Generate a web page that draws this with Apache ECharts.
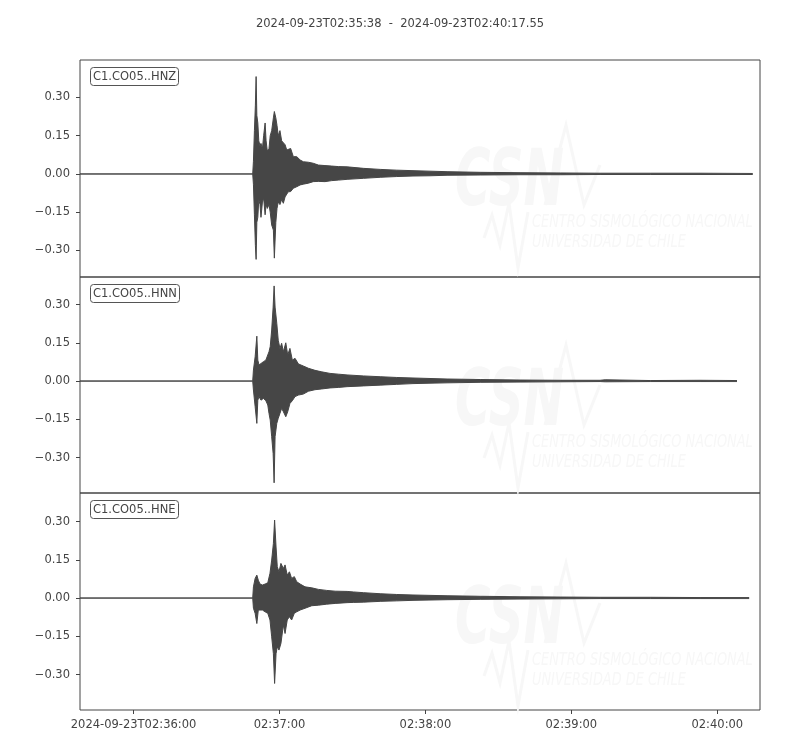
<!DOCTYPE html>
<html>
<head>
    <title>C1.CO05 waveform</title>
    <meta charset="utf-8" />
    <script src="https://cdn.jsdelivr.net/npm/echarts@6/dist/echarts.min.js"></script>
    <style type="text/css">
        html,
        body {
            width: 100%;
            height: 100%;
            margin: 0;
            background: #fff;
        }

        #main {
            width: 800px;
            height: 750px;
        }
    </style>
</head>

<body>
    <div id="main"></div>
    <script>
        // time in seconds after 02:35:00, amplitude envelope
        var stations = ['C1.CO05..HNZ', 'C1.CO05..HNN', 'C1.CO05..HNE'];
        var startSec = 38, endSec = 317.55;
        var tickSecs = [60, 120, 180, 240, 300];
        var yTicks = [-0.3, -0.15, 0, 0.15, 0.3];
        var yMin = [-0.404, -0.439, -0.439];
        var yMax = [0.447, 0.408, 0.412];

        var hnzT = [38, 109.0, 109.3, 109.7, 110.1, 110.4, 110.7, 111.1, 111.5, 112.0, 112.4, 113.0, 113.5, 114.1, 114.5, 115.0, 115.7, 116.2, 116.8, 117.5, 117.9, 118.5, 119.0, 119.5, 120.2, 120.9, 121.6, 122.3, 123.0, 123.6, 124.6, 125.7, 127.1, 128.5, 129.8, 131.9, 133.9, 136.0, 138.7, 141.5, 144.2, 147.8, 154.6, 161.4, 168.2, 174.9, 181.9, 188.9, 202.5, 218.9, 235.4, 251.8, 272.4, 292.9, 314.6];
        var hnzUp = [0, 0, 0.05, 0.17, 0.27, 0.382, 0.23, 0.20, 0.13, 0.11, 0.12, 0.10, 0.15, 0.20, 0.13, 0.09, 0.10, 0.15, 0.17, 0.22, 0.245, 0.22, 0.19, 0.15, 0.17, 0.13, 0.127, 0.115, 0.094, 0.095, 0.10, 0.068, 0.068, 0.055, 0.048, 0.046, 0.042, 0.035, 0.033, 0.031, 0.029, 0.028, 0.022, 0.018, 0.015, 0.013, 0.011, 0.009, 0.0065, 0.005, 0.004, 0.003, 0.003, 0.003, 0.002];
        var hnzLo = [0, 0, -0.04, -0.16, -0.28, -0.335, -0.19, -0.17, -0.10, -0.12, -0.17, -0.11, -0.095, -0.16, -0.12, -0.135, -0.12, -0.15, -0.20, -0.22, -0.33, -0.19, -0.135, -0.11, -0.12, -0.10, -0.115, -0.09, -0.089, -0.07, -0.069, -0.056, -0.05, -0.043, -0.04, -0.036, -0.03, -0.029, -0.03, -0.026, -0.024, -0.021, -0.017, -0.013, -0.010, -0.008, -0.007, -0.005, -0.004, -0.003, -0.003, -0.002, -0.002, -0.002, -0.002];

        var hnnT = [38, 109.0, 109.3, 110.0, 110.7, 111.1, 111.6, 112.4, 113.4, 114.4, 115.2, 115.7, 116.2, 116.8, 117.4, 117.8, 118.2, 118.9, 119.5, 120.2, 120.9, 121.6, 122.6, 123.4, 124.3, 125.3, 126.4, 127.8, 129.8, 131.9, 134.6, 137.4, 140.8, 144.2, 147.8, 154.6, 161.4, 168.2, 174.9, 188.9, 202.5, 218.9, 235.4, 251.8, 253.9, 272.4, 292.9, 308.1];
        var hnnUp = [0, 0, 0.043, 0.095, 0.176, 0.082, 0.063, 0.069, 0.076, 0.082, 0.089, 0.115, 0.135, 0.20, 0.29, 0.373, 0.29, 0.226, 0.16, 0.128, 0.148, 0.115, 0.15, 0.102, 0.128, 0.082, 0.089, 0.067, 0.059, 0.05, 0.042, 0.036, 0.03, 0.027, 0.024, 0.020, 0.017, 0.014, 0.012, 0.008, 0.006, 0.004, 0.003, 0.003, 0.005, 0.002, 0.003, 0.002];
        var hnnLo = [0, 0, -0.035, -0.10, -0.166, -0.075, -0.061, -0.075, -0.068, -0.077, -0.094, -0.127, -0.153, -0.218, -0.284, -0.399, -0.218, -0.166, -0.146, -0.127, -0.107, -0.12, -0.14, -0.12, -0.088, -0.077, -0.061, -0.055, -0.051, -0.04, -0.034, -0.031, -0.027, -0.025, -0.022, -0.019, -0.016, -0.013, -0.010, -0.007, -0.005, -0.004, -0.003, -0.002, -0.003, -0.002, -0.002, -0.002];

        var hneT = [38, 109.0, 109.3, 110.0, 110.7, 111.3, 112.0, 113.0, 114.1, 115.2, 116.1, 116.8, 117.5, 118.0, 118.6, 119.1, 119.8, 120.6, 121.6, 122.3, 123.2, 124.1, 125.0, 126.1, 127.1, 128.5, 130.5, 133.3, 136.0, 139.4, 142.9, 147.8, 150.4, 154.6, 161.4, 168.2, 174.9, 188.9, 202.5, 218.9, 235.4, 251.8, 272.4, 292.9, 313.1];
        var hneUp = [0, 0, 0.044, 0.077, 0.09, 0.07, 0.055, 0.051, 0.055, 0.06, 0.097, 0.149, 0.214, 0.306, 0.20, 0.123, 0.103, 0.136, 0.116, 0.13, 0.09, 0.103, 0.077, 0.084, 0.064, 0.055, 0.044, 0.04, 0.034, 0.030, 0.027, 0.026, 0.024, 0.021, 0.017, 0.014, 0.012, 0.009, 0.007, 0.005, 0.004, 0.003, 0.003, 0.002, 0.002];
        var hneLo = [0, 0, -0.04, -0.06, -0.10, -0.047, -0.04, -0.047, -0.054, -0.06, -0.086, -0.152, -0.218, -0.335, -0.218, -0.191, -0.204, -0.178, -0.106, -0.139, -0.086, -0.073, -0.086, -0.06, -0.054, -0.047, -0.04, -0.03, -0.028, -0.024, -0.021, -0.018, -0.017, -0.016, -0.013, -0.011, -0.009, -0.0065, -0.005, -0.004, -0.003, -0.002, -0.002, -0.002, -0.002];

        var traces = [[hnzT, hnzUp, hnzLo], [hnnT, hnnUp, hnnLo], [hneT, hneUp, hneLo]];

        var ink = '#464646';
        var txt = '#444';
        var font = 'DejaVu Sans';
        var fs = 11.5;
        var gridTops = [60, 277, 493];
        var gridHeights = [217, 216, 217];
        var markFaint = '#f7f7f7';

        function pad(n) { return (n < 10 ? '0' : '') + n; }
        function pairs(t, v) {
            return t.map(function (x, j) { return [x, v[j]]; });
        }

        var grids = [], xAxes = [], yAxes = [], series = [], titles = [], graphics = [];

        titles.push({
            text: '2024-09-23T02:35:38  -  2024-09-23T02:40:17.55',
            left: 'center',
            top: 13,
            textStyle: { fontFamily: font, fontSize: fs, fontWeight: 'normal', color: txt }
        });

        for (var i = 0; i < 3; i++) {
            var last = i === 2;
            grids.push({
                left: 80, width: 680, top: gridTops[i], height: gridHeights[i],
                show: true, borderColor: '#444', borderWidth: 1, backgroundColor: 'transparent'
            });
            xAxes.push({
                type: 'value', gridIndex: i, min: startSec, max: endSec, position: 'bottom',
                axisLine: { show: false, onZero: false },
                splitLine: { show: false },
                axisTick: { show: last, length: 4, lineStyle: { color: '#444' }, customValues: tickSecs },
                axisLabel: {
                    show: last, customValues: tickSecs, margin: 9,
                    fontFamily: font, fontSize: fs, color: txt,
                    formatter: function (v) {
                        var lbl = '02:' + pad(35 + Math.floor(v / 60)) + ':' + pad(v % 60);
                        return v === tickSecs[0] ? '2024-09-23T' + lbl : lbl;
                    }
                }
            });
            yAxes.push({
                type: 'value', gridIndex: i, min: yMin[i], max: yMax[i],
                axisLine: { show: false, onZero: false },
                splitLine: { show: false },
                axisTick: { show: true, length: 4, lineStyle: { color: '#444' }, customValues: yTicks },
                axisLabel: {
                    customValues: yTicks, margin: 10,
                    fontFamily: font, fontSize: fs, color: txt,
                    formatter: function (v) { return v.toFixed(2).replace('-', '\u2212'); }
                }
            });
            titles.push({
                text: stations[i],
                left: 90, top: gridTops[i] + 7,
                padding: [4, 3, 3, 3],
                borderColor: '#555', borderWidth: 1, borderRadius: 3,
                backgroundColor: '#fff',
                textStyle: { fontFamily: font, fontSize: fs, fontWeight: 'normal', color: txt }
            });
            [1, 2].forEach(function (k) {
                series.push({
                    type: 'line', xAxisIndex: i, yAxisIndex: i,
                    data: pairs(traces[i][0], traces[i][k]),
                    symbol: 'none', silent: true, z: 3,
                    lineStyle: { color: ink, width: 1 },
                    areaStyle: { color: ink, opacity: 1 }
                });
            });

            // faint CSN watermark in every panel
            var dy = [0, 220, 438][i];
            graphics.push({
                type: 'text', z: 0, silent: true, x: 455, y: 146 + dy, scaleX: 0.62,
                style: { text: 'CSN', fill: markFaint, font: 'italic bold 78px "DejaVu Sans"' }
            });
            graphics.push({
                type: 'polyline', z: 0, silent: true,
                shape: { points: [[545, 205 + dy], [566, 125 + dy], [584, 205 + dy], [600, 165 + dy]] },
                style: { stroke: markFaint, lineWidth: 3, fill: null }
            });
            graphics.push({
                type: 'polyline', z: 0, silent: true,
                shape: { points: [[484, 238 + dy], [492, 215 + dy], [500, 245 + dy], [509, 203 + dy], [518, 268 + dy], [528, 212 + dy]] },
                style: { stroke: markFaint, lineWidth: 3, fill: null }
            });
            graphics.push({
                type: 'text', z: 0, silent: true, x: 532, y: 214 + dy, scaleX: 0.76,
                style: { text: 'CENTRO SISMOLÓGICO NACIONAL', fill: markFaint, font: 'italic 17px "DejaVu Sans"' }
            });
            graphics.push({
                type: 'text', z: 0, silent: true, x: 532, y: 234 + dy, scaleX: 0.76,
                style: { text: 'UNIVERSIDAD DE CHILE', fill: markFaint, font: 'italic 17px "DejaVu Sans"' }
            });
        }

        var myChart = echarts.init(document.getElementById('main'), null, { renderer: 'canvas' });
        var option = {
            backgroundColor: '#fff',
            animation: false,
            title: titles,
            grid: grids,
            xAxis: xAxes,
            yAxis: yAxes,
            graphic: graphics,
            series: series
        };
        myChart.setOption(option);
    </script>
</body>
</html>
